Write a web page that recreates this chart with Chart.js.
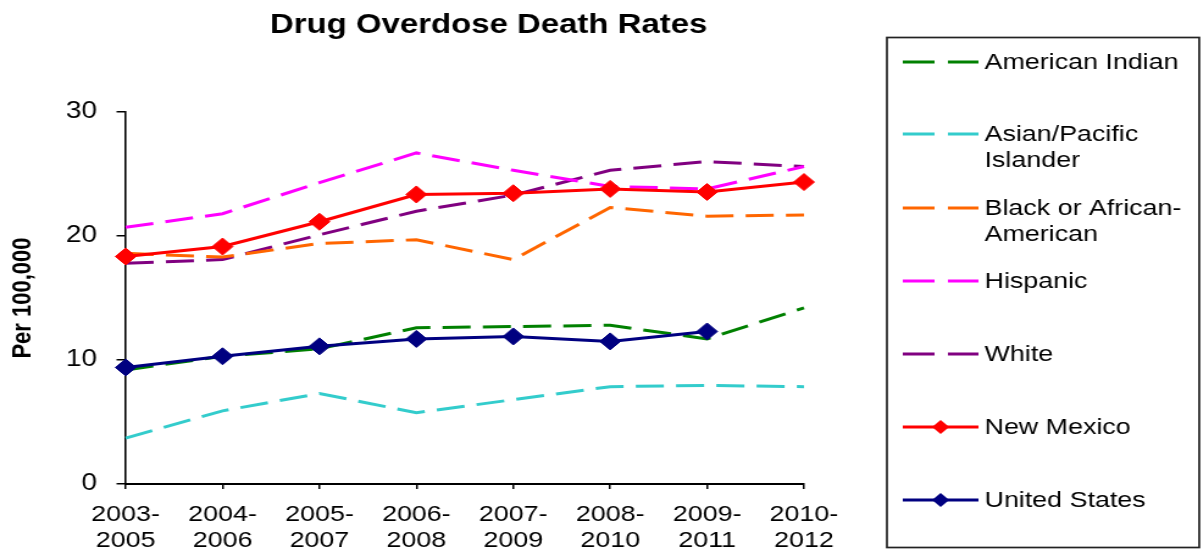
<!DOCTYPE html>
<html>
<head>
<meta charset="utf-8">
<title>Drug Overdose Death Rates</title>
<script src="https://cdn.jsdelivr.net/npm/chart.js@4.4.1/dist/chart.umd.min.js"></script>
<style>
    html, body { margin: 0; padding: 0; background: #fff; overflow: hidden; }
    /* the chart is drawn narrow and widened, which gives the stretched lettering */
    #overdoseChart { display: block; transform: scaleX(1.22); transform-origin: 0 0; }
</style>
</head>
<body>
<canvas id="overdoseChart" width="986" height="550"></canvas>
<script>
const FONT = "'Liberation Sans', Arial, sans-serif";

// Periodos (rótulos do eixo x em duas linhas)
const periods = [
    ['2003-', '2005'], ['2004-', '2006'], ['2005-', '2007'], ['2006-', '2008'],
    ['2007-', '2009'], ['2008-', '2010'], ['2009-', '2011'], ['2010-', '2012']
];

// Taxas por 100.000 habitantes
const americanIndian = [9.2, 10.3, 10.9, 12.6, 12.7, 12.8, 11.7, 14.2];
const asianPacific   = [3.7, 5.9, 7.3, 5.75, 6.8, 7.85, 7.95, 7.85];
const blackAfrican   = [18.6, 18.3, 19.4, 19.7, 18.1, 22.3, 21.6, 21.7];
const hispanic       = [20.7, 21.8, 24.3, 26.7, 25.3, 24.0, 23.8, 25.6];
const white          = [17.8, 18.1, 20.1, 22.0, 23.3, 25.3, 26.0, 25.6];
const newMexico      = [18.35, 19.15, 21.15, 23.35, 23.45, 23.8, 23.55, 24.35];
const unitedStates   = [9.4, 10.3, 11.1, 11.7, 11.9, 11.5, 12.3, null];

const yTicks = [0, 10, 20, 30];

// Texto da legenda, quebrado como na caixa
const legendLines = [
    ['American Indian'],
    ['Asian/Pacific', 'Islander'],
    ['Black or African-', 'American'],
    ['Hispanic'],
    ['White'],
    ['New Mexico'],
    ['United States']
];
const legendRows = [62, 134, 208, 281, 354, 427, 500];

function dashed(label, data, color) {
    return {
        label, data,
        borderColor: color, backgroundColor: color,
        borderWidth: 3, borderDash: [23, 10],
        pointRadius: 0, pointHoverRadius: 0,
        tension: 0, clip: false, order: 1
    };
}

function marked(label, data, color) {
    return {
        label, data,
        borderColor: color, backgroundColor: color,
        borderWidth: 3,
        pointStyle: 'rectRot', pointRadius: 8.5, pointHoverRadius: 8.5,
        pointBorderWidth: 1, pointBorderColor: color, pointBackgroundColor: color,
        tension: 0, clip: false, order: 0
    };
}

// Titulo desenhado a mao (centrado sobre a area do grafico)
const titlePlugin = {
    id: 'titlePlugin',
    afterDraw(chart) {
        const ctx = chart.ctx;
        ctx.save();
        ctx.fillStyle = '#000';
        ctx.font = `bold 27px ${FONT}`;
        ctx.textAlign = 'center';
        ctx.textBaseline = 'alphabetic';
        ctx.fillText('Drug Overdose Death Rates', 400.5, 33);
        ctx.restore();
    }
};

// Legenda em caixa a direita
const boxLegend = {
    id: 'boxLegend',
    afterDraw(chart) {
        const ctx = chart.ctx;
        ctx.save();
        ctx.strokeStyle = '#222';
        ctx.lineWidth = 1.7;
        ctx.strokeRect(727, 37.5, 256, 510);

        chart.data.datasets.forEach((ds, i) => {
            const y = legendRows[i];
            ctx.strokeStyle = ds.borderColor;
            ctx.lineWidth = 3;
            ctx.setLineDash(ds.borderDash ? [26, 11] : []);
            ctx.beginPath();
            ctx.moveTo(740, y);
            ctx.lineTo(802, y);
            ctx.stroke();
            ctx.setLineDash([]);
            if (ds.pointStyle) {
                ctx.fillStyle = ds.borderColor;
                ctx.beginPath();
                ctx.moveTo(771, y - 7);
                ctx.lineTo(778, y);
                ctx.lineTo(771, y + 7);
                ctx.lineTo(764, y);
                ctx.closePath();
                ctx.fill();
            }
            ctx.fillStyle = '#000';
            ctx.font = `22px ${FONT}`;
            ctx.textAlign = 'left';
            ctx.textBaseline = 'middle';
            legendLines[i].forEach((line, k) => ctx.fillText(line, 807, y + 1 + k * 26));
        });
        ctx.restore();
    }
};

const ctx = document.getElementById('overdoseChart').getContext('2d');

new Chart(ctx, {
    type: 'line',
    data: {
        labels: periods,
        datasets: [
            dashed('American Indian', americanIndian, '#008000'),
            dashed('Asian/Pacific Islander', asianPacific, '#33CCCC'),
            dashed('Black or African-American', blackAfrican, '#FF6600'),
            dashed('Hispanic', hispanic, '#FF00FF'),
            dashed('White', white, '#800080'),
            marked('New Mexico', newMexico, '#FF0000'),
            marked('United States', unitedStates, '#000080')
        ]
    },
    options: {
        responsive: false,
        animation: false,
        devicePixelRatio: 1,
        layout: { padding: { top: 112, right: 327, bottom: 0, left: 0 } },
        plugins: {
            legend: { display: false },
            title: { display: false },
            tooltip: { enabled: false }
        },
        scales: {
            x: {
                offset: false,
                grid: {
                    drawOnChartArea: false, drawTicks: true, tickLength: 5,
                    color: '#000', lineWidth: 1.5, offset: false
                },
                border: { display: true, color: '#000', width: 2 },
                ticks: {
                    color: '#000', padding: 13, maxRotation: 0, autoSkip: false,
                    font: { family: FONT, size: 22, lineHeight: 1.18 }
                },
                afterFit(scale) { scale.height = 66; }
            },
            y: {
                min: 0, max: 30,
                afterBuildTicks(scale) { scale.ticks = yTicks.map(v => ({ value: v })); },
                grid: {
                    drawOnChartArea: false, drawTicks: true, tickLength: 7.5,
                    color: '#000', lineWidth: 1.5
                },
                border: { display: true, color: '#000', width: 1.6 },
                ticks: {
                    color: '#000', padding: 16,
                    font: { family: FONT, size: 23 }
                },
                title: {
                    display: true, text: 'Per 100,000', color: '#000',
                    font: { family: FONT, size: 22, weight: 'bold' },
                    padding: { top: 6, bottom: 0 }
                },
                afterFit(scale) { scale.width = 103; }
            }
        }
    },
    plugins: [titlePlugin, boxLegend]
});
</script>
</body>
</html>
